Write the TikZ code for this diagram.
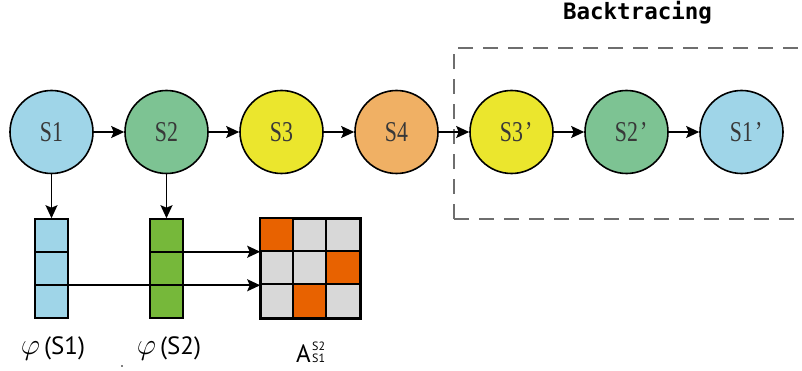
\documentclass[tikz,border=0pt]{standalone}
\usepackage{fontspec}
\usepackage{graphicx}
\usetikzlibrary{arrows.meta,calc}
\newfontfamily\circfont[FakeStretch=0.76]{Liberation Serif}
\newfontfamily\labfont{PT Sans}
\newfontfamily\titlefont{DejaVu Sans Mono}
\newcommand\phisym{\scalebox{1.2}{$\varphi$}}
\definecolor{cblue}{HTML}{9FD5E8}
\definecolor{cgreen}{HTML}{7DC393}
\definecolor{cyellow}{HTML}{EBE62D}
\definecolor{corange}{HTML}{F0B064}
\definecolor{vgreen}{HTML}{76B83A}
\definecolor{morange}{HTML}{E86200}
\definecolor{mgray}{HTML}{D8D8D8}
\definecolor{dashgray}{HTML}{6E6E6E}
\begin{document}
\begin{tikzpicture}[x=1pt,y=-1pt,
  state/.style={circle, draw=black, line width=1.6pt, minimum size=83pt, inner sep=0pt,
    font=\circfont\fontsize{28.7}{30}\selectfont, text=black!78},
  arr/.style={-{Stealth[length=13pt,width=12pt,inset=2.5pt]}, line width=1.6pt},
  vec/.style={rectangle, draw=black, line width=1.6pt, minimum width=33pt, minimum height=99pt, inner sep=0pt},
  grid/.style={line width=1.6pt},
  lab/.style={font=\labfont\fontsize{25}{26}\selectfont, text=black, inner sep=0pt},
  smlab/.style={font=\labfont\fontsize{12}{12}\selectfont, text=black, inner sep=0pt},
  dashbox/.style={draw=dashgray, line width=1.5pt, dash pattern=on 15pt off 10pt}
]
\useasboundingbox (0,0) rectangle (802,371);

% title
\node[font=\titlefont\bfseries\fontsize{22.5}{24}\selectfont, inner sep=0pt] (title) at (637.5,13) {Backtracing};

% dashed box
\begin{scope}
\clip (0,0) rectangle (802,371);
\draw[dashbox] (454,219) -- (454,48) -- (830,48);
\draw[dashbox] (454,219) -- (830,219);
\end{scope}

% states
\node[state, fill=cblue] (s1) at (51.5,132) {S1};
\node[state, fill=cgreen] (s2) at (166.5,132) {S2};
\node[state, fill=cyellow] (s3) at (281.5,132) {S3};
\node[state, fill=corange] (s4) at (396.5,132) {S4};
\node[state, fill=cyellow] (s3p) at (511.5,132) {S3\rlap{\kern2pt’}};
\node[state, fill=cgreen] (s2p) at (626.5,132) {S2\rlap{\kern2pt’}};
\node[state, fill=cblue] (s1p) at (741.5,132) {S1\rlap{\kern2pt’}};

\draw[arr] (s1) -- (s2);
\draw[arr] (s2) -- (s3);
\draw[arr] (s3) -- (s4);
\draw[arr] (s4) -- (s3p);
\draw[arr] (s3p) -- (s2p);
\draw[arr] (s2p) -- (s1p);

% vectors
\node[vec, fill=cblue] (v1) at (51.5,268.5) {};
\node[vec, fill=vgreen] (v2) at (166.5,268.5) {};
\foreach \v in {v1,v2}{
  \draw[grid] ($(\v.north west)!1/3!(\v.south west)$) -- ($(\v.north east)!1/3!(\v.south east)$);
  \draw[grid] ($(\v.north west)!2/3!(\v.south west)$) -- ($(\v.north east)!2/3!(\v.south east)$);
}
\draw[arr] (s1.south) -- (v1.north);
\draw[arr] (s2.south) -- (v2.north);

% matrix
\node[vec, minimum width=99pt, fill=mgray] (m) at (310.5,268.5) {};
\fill[morange] (m.north west) rectangle ++(33,33);
\fill[morange] ($(m.north west)+(66,33)$) rectangle ++(33,33);
\fill[morange] ($(m.north west)+(33,66)$) rectangle ++(33,33);
\draw[grid] ($(m.north west)+(33,0)$) -- ++(0,99);
\draw[grid] ($(m.north west)+(66,0)$) -- ++(0,99);
\draw[grid] ($(m.north west)+(0,33)$) -- ++(99,0);
\draw[grid] ($(m.north west)+(0,66)$) -- ++(99,0);
\draw[grid] (m.north west) rectangle (m.south east);

\draw[arr] ($(v2.north east)!1/3!(v2.south east)$) -- ($(m.north west)!1/3!(m.south west)$);
\draw[arr] ($(v1.north east)!2/3!(v1.south east)$) -- ($(m.north west)!2/3!(m.south west)$);

% labels
\node[lab] (l1) at (53,349) {\phisym\,(S1)};
\node[lab] (l2) at (169,349) {\phisym\,(S2)};
\node[lab, anchor=base] (la) at (303.5,362) {A};
\node[smlab, anchor=base west] (lsup) at (312,350.5) {S2};
\node[smlab, anchor=base west] (lsub) at (312,362) {S1};
\node[circle, fill=black, inner sep=0pt, minimum size=1.6pt] (dot) at (122,366) {};
\end{tikzpicture}
\end{document}
